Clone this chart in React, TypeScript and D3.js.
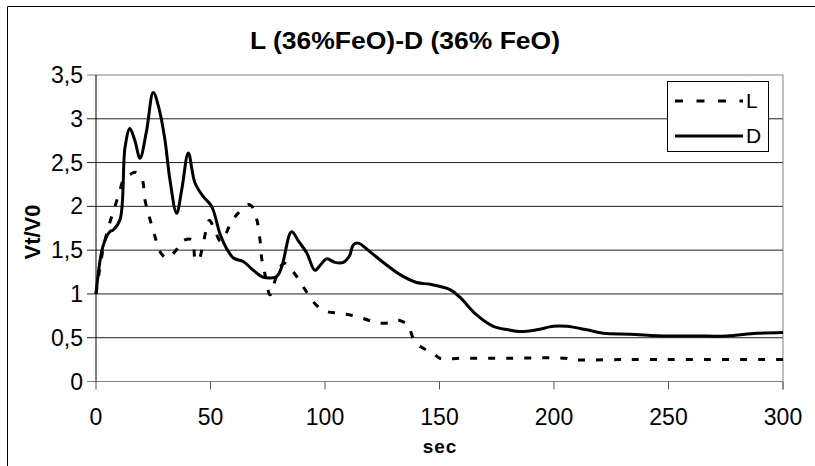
import React from "react";
import * as d3 from "d3";

const title = "L (36%FeO)-D (36% FeO)";
const xTicks = [0, 50, 100, 150, 200, 250, 300];
const yTicks = [0, 0.5, 1, 1.5, 2, 2.5, 3, 3.5];

const dTime = [0, 3, 6, 7.5, 10.5, 12.7, 14.8, 17, 19.2, 22, 25, 27.5, 30.1, 32.3, 35.2, 37.5, 40.3, 43.2, 46.9, 50.5, 54.1, 57, 60, 64.3, 68.7, 73.1, 78.9, 81.1, 85.4, 88.5, 92, 95.6, 98, 100.7, 104.4, 108, 110.6, 112.4, 114.5, 119.7, 126.9, 132.8, 140, 145.9, 154.6, 159, 166.2, 173.5, 180, 185.2, 192.4, 199.7, 205.5, 214.3, 221.5, 233, 249, 262, 275.3, 288.5, 300];
const dValue = [1.0, 1.54, 1.71, 1.73, 1.85, 2.68, 2.89, 2.75, 2.55, 2.85, 3.3, 3.12, 2.76, 2.3, 1.92, 2.2, 2.61, 2.27, 2.11, 2.0, 1.69, 1.52, 1.41, 1.37, 1.27, 1.19, 1.2, 1.31, 1.71, 1.6, 1.47, 1.27, 1.33, 1.4, 1.36, 1.36, 1.43, 1.56, 1.58, 1.48, 1.33, 1.22, 1.13, 1.11, 1.05, 0.96, 0.76, 0.63, 0.59, 0.57, 0.59, 0.63, 0.63, 0.59, 0.55, 0.54, 0.52, 0.52, 0.52, 0.55, 0.56];

const lTime = [0, 3, 5.5, 8.3, 10.5, 12, 14.8, 17, 20, 21.4, 23.6, 25.8, 28, 31, 35, 37.5, 41.8, 43.5, 45, 47, 49.5, 52, 54.5, 59.3, 62, 66.5, 68, 70.2, 71.6, 72.4, 74, 76, 78.9, 81.1, 82.5, 86.2, 90.5, 96.3, 100.7, 105.8, 110.9, 116.7, 122.6, 128.4, 132, 134.2, 135.9, 136.8, 139.3, 142.9, 147.3, 150.2, 160, 180, 205, 207, 230, 260, 300];
const lValue = [1.0, 1.5, 1.77, 2.0, 2.19, 2.3, 2.36, 2.39, 2.32, 2.07, 1.85, 1.65, 1.48, 1.41, 1.5, 1.6, 1.62, 1.38, 1.4, 1.6, 1.84, 1.72, 1.6, 1.83, 1.92, 2.02, 2.0, 1.85, 1.62, 1.4, 1.2, 0.99, 1.21, 1.33, 1.35, 1.25, 1.08, 0.87, 0.8, 0.78, 0.76, 0.72, 0.67, 0.67, 0.7, 0.68, 0.66, 0.62, 0.45, 0.38, 0.32, 0.265, 0.265, 0.265, 0.265, 0.25, 0.25, 0.25, 0.25];

const seriesNames = ["L", "D"];

const W = 815;
const H = 466;
const plot = { left: 96, right: 783, top: 75, bottom: 381.5 };
const font = "Arial, 'Liberation Sans', sans-serif";

export default function App() {
  const x = d3.scaleLinear().domain([0, 300]).range([plot.left, plot.right]);
  const y = d3.scaleLinear().domain([0, 3.5]).range([plot.bottom, plot.top]);

  const line = d3
    .line<[number, number]>()
    .x((d) => x(d[0]))
    .y((d) => y(d[1]))
    .curve(d3.curveCatmullRom.alpha(0.5));

  const dPts = dTime.map((t, i) => [t, dValue[i]] as [number, number]);
  const lPts = lTime.map((t, i) => [t, lValue[i]] as [number, number]);

  const fmt = (v: number) => String(v).replace(".", ",");

  return (
    <div style={{ position: "fixed", left: 0, top: 0 }}>
      <svg width={W} height={H} style={{ display: "block", background: "#fff" }} fontFamily={font}>
        {/* outer frame */}
        <line x1={7.5} y1={6.5} x2={W} y2={6.5} stroke="#000" strokeWidth={1} />
        <line x1={7.5} y1={6.5} x2={7.5} y2={H} stroke="#000" strokeWidth={1} />

        <text x={405} y={49} textAnchor="middle" fontSize={23} fontWeight="bold" textLength={310} lengthAdjust="spacingAndGlyphs">
          {title}
        </text>

        {/* gridlines */}
        {yTicks.map((t) => (
          <line
            key={"g" + t}
            x1={plot.left - 9}
            x2={plot.right}
            y1={y(t)}
            y2={y(t)}
            stroke={t === 3.5 || t === 0 ? "#808080" : "#222"}
            strokeWidth={1}
          />
        ))}
        {/* right border */}
        <line x1={plot.right} x2={plot.right} y1={plot.top} y2={plot.bottom + 8} stroke="#808080" strokeWidth={1} />
        {/* y axis */}
        <line x1={plot.left} x2={plot.left} y1={plot.top} y2={plot.bottom} stroke="#000" strokeWidth={1} />
        {/* x ticks */}
        {xTicks.map((t) => (
          <line key={"xt" + t} x1={x(t)} x2={x(t)} y1={plot.bottom} y2={plot.bottom + 8} stroke="#555" strokeWidth={1} />
        ))}

        {yTicks.map((t) => (
          <text key={"yl" + t} x={83} y={y(t) + 8} textAnchor="end" fontSize={23}>
            {fmt(t)}
          </text>
        ))}
        {xTicks.map((t) => (
          <text key={"xl" + t} x={x(t)} y={425} textAnchor="middle" fontSize={23}>
            {t}
          </text>
        ))}

        <text x={440} y={453} textAnchor="middle" fontSize={19} fontWeight="bold" letterSpacing={1}>
          sec
        </text>
        <text
          transform={`translate(40, 232) rotate(-90)`}
          textAnchor="middle"
          fontSize={22}
          fontWeight="bold"
        >
          Vt/V0
        </text>

        {/* series */}
        <path d={line(lPts) || ""} fill="none" stroke="#000" strokeWidth={3} strokeDasharray="7,11" />
        <path d={line(dPts) || ""} fill="none" stroke="#000" strokeWidth={3} strokeLinejoin="round" />

        {/* legend */}
        <rect x={667.5} y={81.5} width={101} height={70} fill="#fff" stroke="#000" strokeWidth={1} />
        <line x1={675} x2={743} y1={101} y2={101} stroke="#000" strokeWidth={3} strokeDasharray="8,13.5" />
        <line x1={675} x2={743} y1={136} y2={136} stroke="#000" strokeWidth={3} />
        <text x={746} y={108} fontSize={21}>
          {seriesNames[0]}
        </text>
        <text x={746} y={143} fontSize={21}>
          {seriesNames[1]}
        </text>
      </svg>
    </div>
  );
}
